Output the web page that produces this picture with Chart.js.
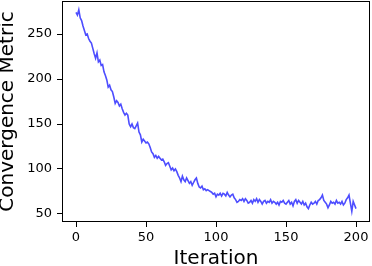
<!DOCTYPE html>
<html>
<head>
<meta charset="utf-8">
<script src="https://cdn.jsdelivr.net/npm/chart.js@4/dist/chart.umd.min.js"></script>
<style>
  html, body { margin: 0; padding: 0; background: #fff; }
  #wrap { width: 372px; height: 266px; position: relative; }
</style>
</head>
<body>
<div id="wrap"><canvas id="c" width="372" height="266"></canvas></div>
<script>
const iterations = Array.from({length: 201}, (_, i) => i);
const metric = [
  274, 271, 277, 268, 265, 259, 254, 249, 250, 245,
  242, 240, 234, 228, 223, 229, 219, 221, 215, 216,
  208, 204, 199, 191, 193, 188, 186, 180, 173, 176,
  174, 170, 172, 167, 163, 160, 162, 160, 150, 147,
  150, 146, 145, 148, 151, 141, 138, 130, 133, 131,
  129, 130, 128, 124, 119, 117, 113, 115, 112, 114,
  112, 110, 111, 108, 104, 106, 107, 103, 99, 101,
  98, 100, 97, 93, 90, 86, 92, 88, 86, 90,
  87, 84, 86, 82, 85, 88, 90, 84, 80, 79,
  81, 77, 78, 76, 77, 76, 75, 74, 72, 73,
  69, 72, 71, 73, 70, 73, 72, 70, 74, 71,
  69, 71, 72, 68, 66, 63, 64, 66, 65, 67,
  64, 67, 65, 62, 63, 65, 62, 66, 64, 67,
  63, 66, 64, 61, 64, 65, 62, 64, 63, 66,
  62, 64, 63, 61, 63, 60, 64, 63, 65, 62,
  61, 63, 65, 61, 63, 59, 64, 66, 62, 65,
  63, 61, 64, 60, 62, 58, 56, 60, 63, 61,
  62, 64, 61, 65, 66, 68, 71, 65, 63, 61,
  57, 60, 64, 62, 63, 61, 65, 62, 63, 61,
  64, 60, 62, 66, 68, 71, 62, 53, 64, 60,
  56
];
const xTicks = [0, 50, 100, 150, 200];
const yTicks = [50, 100, 150, 200, 250];
const xLabel = 'Iteration';
const yLabel = 'Convergence Metric';

const FONT = 'DejaVu Sans';

const framePlugin = {
  id: 'frame',
  afterDraw(chart) {
    const {ctx, chartArea: a} = chart;
    ctx.save();
    ctx.strokeStyle = '#000';
    ctx.lineWidth = 1;
    ctx.strokeRect(a.left + 0.5, a.top + 0.5, a.right - a.left - 1, a.bottom - a.top - 1);
    ctx.restore();
  }
};

function zeroPad(s) { s.paddingTop = 0; s.paddingBottom = 0; s.paddingLeft = 0; s.paddingRight = 0; }

new Chart(document.getElementById('c'), {
  type: 'line',
  data: {
    datasets: [{
      data: iterations.map((x, i) => ({x, y: metric[i]})),
      borderColor: 'rgba(77,77,255,1)',
      borderWidth: 1.6,
      pointRadius: 0,
      tension: 0,
      fill: false
    }]
  },
  options: {
    responsive: false,
    animation: false,
    events: [],
    layout: { padding: { top: 1, right: 2, left: 0, bottom: 0 } },
    plugins: { legend: { display: false }, tooltip: { enabled: false } },
    scales: {
      x: {
        type: 'linear',
        min: -10, max: 210,
        afterBuildTicks(s) { s.ticks = xTicks.map(v => ({value: v})); },
        afterFit(s) { s.height = 44; zeroPad(s); },
        border: { display: false },
        grid: { display: true, drawOnChartArea: false, drawTicks: true, tickLength: 5, color: '#000', lineWidth: 1 },
        ticks: { color: '#000', font: { family: FONT, size: 13 }, padding: 3, maxRotation: 0, autoSkip: false,
                 callback: v => String(v) },
        title: { display: true, text: xLabel, color: '#000', font: { family: FONT, size: 20, lineHeight: 1 },
                 padding: { top: 0, bottom: -3 } }
      },
      y: {
        type: 'linear',
        min: 41.1, max: 286.7,
        afterBuildTicks(s) { s.ticks = yTicks.map(v => ({value: v})); },
        afterFit(s) { s.width = 62; zeroPad(s); },
        border: { display: false },
        grid: { display: true, drawOnChartArea: false, drawTicks: true, tickLength: 5, color: '#000', lineWidth: 1 },
        ticks: { color: '#000', font: { family: FONT, size: 13 }, padding: 5, autoSkip: false,
                 callback: v => String(v) },
        title: { display: true, text: yLabel, color: '#000', font: { family: FONT, size: 20, lineHeight: 1 },
                 padding: { top: -2, bottom: 0 } }
      }
    }
  },
  plugins: [framePlugin]
});
</script>
</body>
</html>
